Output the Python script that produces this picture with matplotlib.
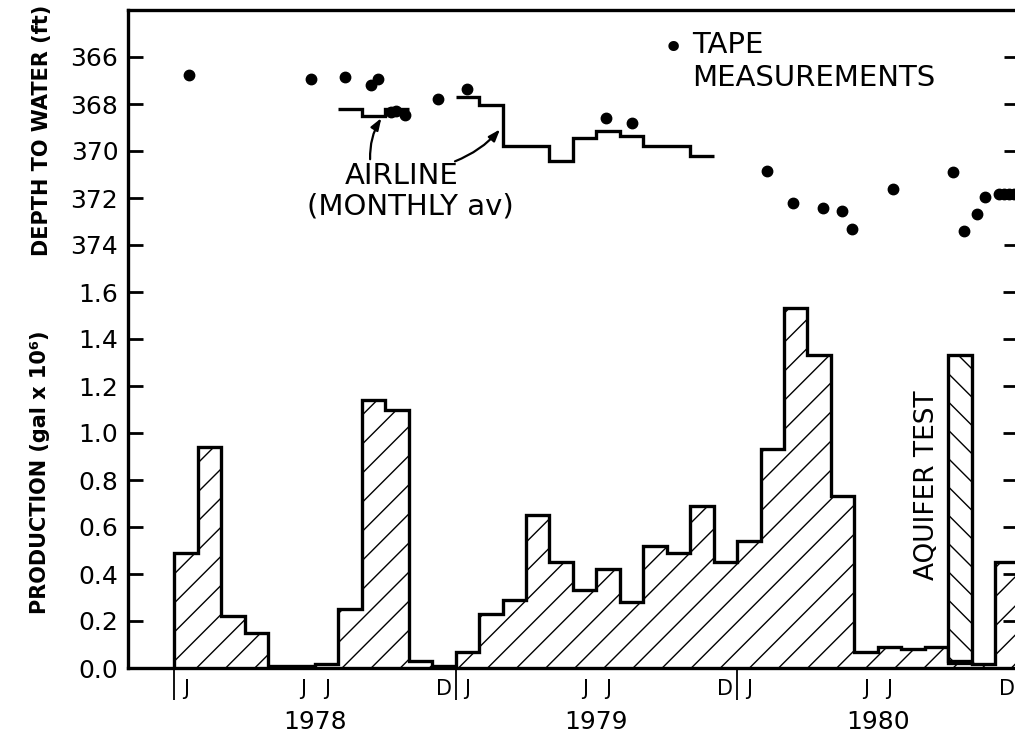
import numpy as np
import matplotlib
matplotlib.use("Agg")
import matplotlib.pyplot as plt
from matplotlib.collections import LineCollection
from matplotlib.transforms import IdentityTransform

# x axis: months counted from the start of Jan 1978
month_edges = np.arange(0, 37)
production = [0.49, 0.94, 0.22, 0.15, 0.008, 0.008, 0.017, 0.25, 1.14, 1.10, 0.03, 0.008,
              0.07, 0.23, 0.29, 0.65, 0.45, 0.33, 0.42, 0.28, 0.52, 0.49, 0.69, 0.45,
              0.54, 0.93, 1.53, 1.33, 0.73, 0.07, 0.09, 0.08, 0.09, 0.02, 0.015, 0.45]

# aquifer test pumping (Oct 1980)
aquifer_month = 33
aquifer_bottom = 0.03
aquifer_top = 1.33

# tape measurements of depth to water
tape_month = [0.63, 5.82, 7.28, 8.39, 8.67, 9.23, 9.45, 9.84, 11.26, 12.47,
              18.41, 19.51, 25.26, 26.37, 27.65, 28.46, 28.89, 30.64,
              33.22, 33.68, 34.22, 34.57, 35.17, 35.38, 35.6, 35.81]
tape_depth = [366.76, 366.94, 366.87, 367.21, 366.94, 368.36, 368.31, 368.45, 367.79, 367.37,
              368.6, 368.81, 370.86, 372.23, 372.42, 372.56, 373.33, 371.61,
              370.9, 373.41, 372.7, 371.95, 371.82, 371.82, 371.82, 371.82]

# airline monthly averages
airline_78_edges = [7, 8, 9, 10]
airline_78 = [368.2, 368.5, 368.22]
airline_79_edges = np.arange(12, 24)
airline_79 = [367.72, 368.03, 369.8, 369.8, 370.44, 369.45, 369.13, 369.37, 369.8, 369.8, 370.22]

prod_ticks = [0.0, 0.2, 0.4, 0.6, 0.8, 1.0, 1.2, 1.4, 1.6]
depth_ticks = [366, 368, 370, 372, 374]
month_pos = [0.5, 5.5, 6.5, 11.5]
month_labels = ["J", "J", "J", "D"]
years = ["1978", "1979", "1980"]
year_bounds = [0, 12, 24, 36]

fig = plt.figure(figsize=(10.15, 7.37), dpi=100)
ax = fig.add_axes([128 / 1015, 69 / 737, 890.5 / 1015, 658 / 737])
ax.set_xlim(-1.974, 36.0)
ax.set_ylim(0, 2.8)
ax2 = ax.twinx()
ax2.set_ylim(392, 364)

# production bars: clip path + hand made sparse hatch + step outline
bars = ax.stairs(production, month_edges, baseline=0, fill=True,
                 facecolor="none", edgecolor="none")
step = 29.1
cs = -447.7 + step * np.arange(-24, 46)
segs = [[(-100, c - 100), (1200, c + 1200)] for c in cs]
hatch = LineCollection(segs, colors="k", linewidths=1.0, transform=IdentityTransform(), zorder=1.5)
ax.add_collection(hatch, autolim=False)
hatch.set_clip_path(bars)
ax.stairs(production, month_edges, baseline=0, color="k", linewidth=2.4, zorder=2.5)

# aquifer test bar, hatched the other way
aq = ax.bar(aquifer_month + 0.5, aquifer_top - aquifer_bottom, width=1, bottom=aquifer_bottom,
            facecolor="white", edgecolor="none", zorder=3)[0]
cs2 = 10 + 28.3 * np.arange(0, 70)
segs2 = [[(-100, c + 100), (1200, c - 1200)] for c in cs2]
hatch2 = LineCollection(segs2, colors="k", linewidths=1.0, transform=IdentityTransform(), zorder=3.1)
ax.add_collection(hatch2, autolim=False)
hatch2.set_clip_path(aq)
ax.bar(aquifer_month + 0.5, aquifer_top - aquifer_bottom, width=1, bottom=aquifer_bottom,
       fill=False, edgecolor="k", linewidth=2.4, zorder=3.2)
ax.text(32.1, 0.777, "AQUIFER TEST", rotation=90, ha="center", va="center", fontsize=19)

# depth to water
ax2.plot(tape_month, tape_depth, "o", color="k", ms=7.5, ls="none")
ax2.stairs(airline_78, airline_78_edges, baseline=None, color="k", linewidth=2.4)
ax2.stairs(airline_79, airline_79_edges, baseline=None, color="k", linewidth=2.4)

ax2.text(9.71, 371.07, "AIRLINE", ha="center", va="center", fontsize=21)
ax2.text(10.05, 372.35, "(MONTHLY av)", ha="center", va="center", fontsize=21)
arrow = dict(arrowstyle="-|>,head_length=0.7,head_width=0.25", color="k", lw=1.6, shrinkA=0, shrinkB=0)
ax2.annotate("", xy=(8.83, 368.6), xytext=(8.35, 370.35),
             arrowprops=dict(arrow, connectionstyle="arc3,rad=-0.15"))
ax2.annotate("", xy=(13.89, 369.08), xytext=(11.97, 370.44),
             arrowprops=dict(arrow, connectionstyle="arc3,rad=0.12"))

ax2.text(21.27, 365.68, "\u2022", ha="center", va="center", fontsize=26)
ax2.text(22.08, 365.51, "TAPE", ha="left", va="center", fontsize=21)
ax2.text(22.08, 366.91, "MEASUREMENTS", ha="left", va="center", fontsize=21)

# axes dressing
for s in ax.spines.values():
    s.set_linewidth(2.4)
for s in ax2.spines.values():
    s.set_visible(False)

ax.set_yticks(prod_ticks, labels=[f"{v:.1f}" for v in prod_ticks])
ax.tick_params(axis="y", direction="in", length=11, width=2, left=True, right=True,
               labelsize=18, pad=7)
ax2.set_yticks(depth_ticks, labels=[str(v) for v in depth_ticks])
ax2.tick_params(axis="y", direction="in", length=11, width=2, left=True, right=True,
                labelleft=True, labelright=False, labelsize=18, pad=7)

ax.set_xticks(year_bounds, labels=["" for _ in year_bounds])
ax.tick_params(axis="x", which="major", direction="out", length=23, width=1.3)
ax.set_xticks([p + 12 * k for k in range(len(years)) for p in month_pos],
              labels=month_labels * len(years), minor=True)
ax.tick_params(axis="x", which="minor", length=0, labelsize=15, pad=8)

for k, yr in enumerate(years):
    ax.text(6 + 12 * k, -0.082, yr, transform=ax.get_xaxis_transform(),
            ha="center", va="center", fontsize=18)

fig.text(42 / 1015, 1 - 130 / 737, "DEPTH TO WATER (ft)", rotation=90, ha="center", va="center",
         fontsize=15, fontweight="bold")
fig.text(40 / 1015, 1 - 472 / 737, "PRODUCTION (gal x 10\u2076)", rotation=90, ha="center", va="center",
         fontsize=15, fontweight="bold")

fig.savefig("out.png", dpi=100)
